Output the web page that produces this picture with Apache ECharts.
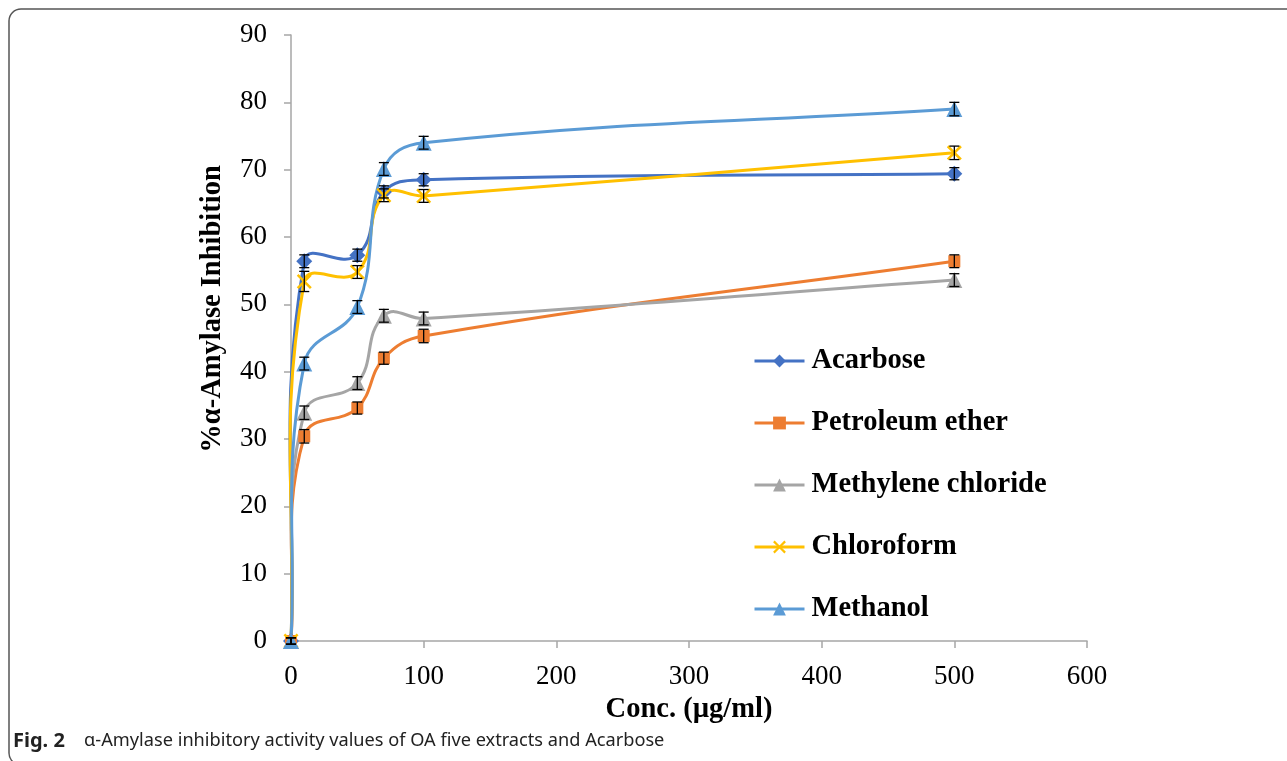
<!DOCTYPE html>
<html>
<head>
<meta charset="utf-8">
<script src="https://cdn.jsdelivr.net/npm/echarts@6/dist/echarts.min.js"></script>
<style>
html,body{margin:0;padding:0;background:#fff;}
#chart{width:1287px;height:761px;}
</style>
</head>
<body>
<div id="chart"></div>
<script>
// ---- Data ----
var conc = [0, 10, 50, 70, 100, 500];
var xTicks = [0, 100, 200, 300, 400, 500, 600];
var yTicks = [0, 10, 20, 30, 40, 50, 60, 70, 80, 90];

var seriesNames = ['Acarbose', 'Petroleum ether', 'Methylene chloride', 'Chloroform', 'Methanol'];

var acarbose = [0, 56.4, 57.3, 66.7, 68.5, 69.4];
var acarboseErr = [0.5, 0.95, 0.9, 0.9, 0.9, 0.9];

var petroleum = [0, 30.4, 34.6, 42.0, 45.3, 56.4];
var petroleumErr = [0.5, 1.0, 0.9, 0.9, 1.0, 0.95];

var methylene = [0, 33.9, 38.3, 48.3, 47.9, 53.6];
var methyleneErr = [0.5, 1.0, 0.95, 0.95, 0.95, 0.95];

var chloroform = [0, 53.4, 54.8, 66.2, 66.1, 72.5];
var chloroformErr = [0.5, 1.5, 0.95, 0.95, 0.95, 1.0];

var methanol = [0, 41.2, 49.6, 70.1, 74.0, 79.0];
var methanolErr = [0.5, 0.95, 0.95, 0.95, 0.95, 1.0];

// ---- Styles ----
var colors = ['#4472C4', '#ED7D31', '#A5A5A5', '#FFC000', '#5B9BD5'];
var xSymbol = 'path://M0,1.2L1.2,0L5,3.8L8.8,0L10,1.2L6.2,5L10,8.8L8.8,10L5,6.2L1.2,10L0,8.8L3.8,5Z';
var symbols = ['diamond', 'rect', 'triangle', xSymbol, 'triangle'];
var symbolSizes = [16, 12, 16, 15, 16];
var SMOOTH = 0.4;

var values = [acarbose, petroleum, methylene, chloroform, methanol];
var errors = [acarboseErr, petroleumErr, methyleneErr, chloroformErr, methanolErr];

function pairs(ys) {
  return conc.map(function (x, i) { return [x, ys[i]]; });
}
function errData(ys, es) {
  return conc.map(function (x, i) { return [x, ys[i], es[i]]; });
}

function unit(a, b) {
  var dx = b[0] - a[0], dy = b[1] - a[1];
  var l = Math.sqrt(dx * dx + dy * dy) || 1;
  return [dx / l, dy / l];
}

// Smooth curve (Excel-like) drawn segment by segment through the axis scales
function curveRenderer(k) {
  var ys = values[k];
  return function (params, api) {
    var i = params.dataIndex;
    var n = conc.length;
    if (i >= n - 1) return null;
    var P = conc.map(function (x, j) { return api.coord([x, ys[j]]); });
    function tangent(j) {
      if (j === 0) return unit(P[0], P[1]);
      if (j === n - 1) return unit(P[n - 2], P[n - 1]);
      return unit(P[j - 1], P[j + 1]);
    }
    var a = P[i], b = P[i + 1];
    var seg = Math.sqrt((b[0] - a[0]) * (b[0] - a[0]) + (b[1] - a[1]) * (b[1] - a[1]));
    var t0 = tangent(i), t1 = tangent(i + 1);
    var c1 = [a[0] + t0[0] * SMOOTH * seg, a[1] + t0[1] * SMOOTH * seg];
    var c2 = [b[0] - t1[0] * SMOOTH * seg, b[1] - t1[1] * SMOOTH * seg];
    return {
      type: 'bezierCurve',
      shape: { x1: a[0], y1: a[1], x2: b[0], y2: b[1], cpx1: c1[0], cpy1: c1[1], cpx2: c2[0], cpy2: c2[1] },
      style: { stroke: colors[k], lineWidth: 3, fill: null, lineCap: 'round' }
    };
  };
}

var series = [];
seriesNames.forEach(function (name, k) {
  series.push({
    name: name,
    type: 'line',
    data: pairs(values[k]),
    smooth: false,
    symbol: symbols[k],
    symbolSize: symbolSizes[k],
    lineStyle: { color: colors[k], width: 3, opacity: 0 },
    itemStyle: { color: colors[k] },
    z: 10 + k
  });
});
seriesNames.forEach(function (name, k) {
  series.push({
    name: name + ' curve',
    type: 'custom',
    data: pairs(values[k]),
    z: 3 + k,
    silent: true,
    clip: false,
    renderItem: curveRenderer(k)
  });
});
seriesNames.forEach(function (name, k) {
  series.push({
    name: name + ' err',
    type: 'custom',
    data: errData(values[k], errors[k]),
    z: 30,
    silent: true,
    renderItem: function (params, api) {
      var x = api.value(0), y = api.value(1), e = api.value(2);
      var top = api.coord([x, y + e]);
      var bot = api.coord([x, y - e]);
      var hw = 5;
      var st = { stroke: '#000', lineWidth: 1.3 };
      return {
        type: 'group',
        children: [
          { type: 'line', shape: { x1: top[0], y1: top[1], x2: bot[0], y2: bot[1] }, style: st },
          { type: 'line', shape: { x1: top[0] - hw, y1: top[1], x2: top[0] + hw, y2: top[1] }, style: st },
          { type: 'line', shape: { x1: bot[0] - hw, y1: bot[1], x2: bot[0] + hw, y2: bot[1] }, style: st }
        ]
      };
    }
  });
});

var serif = '"Liberation Serif", "Times New Roman", serif';

var option = {
  backgroundColor: '#fff',
  animation: false,
  grid: { left: 291, right: 200, top: 35, bottom: 120, containLabel: false },
  xAxis: {
    type: 'value',
    min: xTicks[0],
    max: xTicks[xTicks.length - 1],
    interval: xTicks[1] - xTicks[0],
    name: 'Conc. (µg/ml)',
    nameLocation: 'middle',
    nameGap: 51,
    nameTextStyle: { fontFamily: serif, fontWeight: 'bold', fontSize: 28.5, color: '#000' },
    axisLine: { show: true, lineStyle: { color: '#a6a6a6', width: 1.5 } },
    axisTick: { show: true, length: 7, lineStyle: { color: '#a6a6a6', width: 1.5 } },
    axisLabel: { fontFamily: serif, fontSize: 27, color: '#000', margin: 22 },
    splitLine: { show: false }
  },
  yAxis: {
    type: 'value',
    min: yTicks[0],
    max: yTicks[yTicks.length - 1],
    interval: yTicks[1] - yTicks[0],
    name: '%α-Amylase Inhibition',
    nameLocation: 'middle',
    nameGap: 64,
    nameTextStyle: { fontFamily: serif, fontWeight: 'bold', fontSize: 28.5, color: '#000', padding: [0, 0, 0, 58] },
    axisLine: { show: true, lineStyle: { color: '#a6a6a6', width: 1.5 } },
    axisTick: { show: true, length: 7, lineStyle: { color: '#a6a6a6', width: 1.5 } },
    axisLabel: { fontFamily: serif, fontSize: 27, color: '#000', margin: 24 },
    splitLine: { show: false }
  },
  legend: {
    data: seriesNames,
    orient: 'vertical',
    left: 748,
    top: 340,
    itemWidth: 50,
    itemHeight: 16,
    itemGap: 30,
    lineStyle: { width: 3, opacity: 1 },
    textStyle: { fontFamily: serif, fontWeight: 'bold', fontSize: 28.5, color: '#000', lineHeight: 32, padding: [0, 0, 0, 2] }
  },
  graphic: [
    {
      type: 'rect',
      shape: { x: 9, y: 9, width: 1400, height: 756, r: 12 },
      style: { fill: 'none', stroke: '#555', lineWidth: 1.5 },
      silent: true
    },
    {
      type: 'text',
      left: 13,
      top: 731,
      style: {
        text: '{b|Fig. 2}α-Amylase inhibitory activity values of OA five extracts and Acarbose',
        font: '18.2px "Noto Sans", sans-serif',
        fill: '#222',
        rich: {
          b: { fontWeight: 'bold', fontFamily: '"Noto Sans", sans-serif', fontSize: 20, fill: '#222', width: 71, align: 'left' }
        }
      }
    }
  ],
  series: series
};

var chart = echarts.init(document.getElementById('chart'), null, { renderer: 'canvas' });
chart.setOption(option);
</script>
</body>
</html>
